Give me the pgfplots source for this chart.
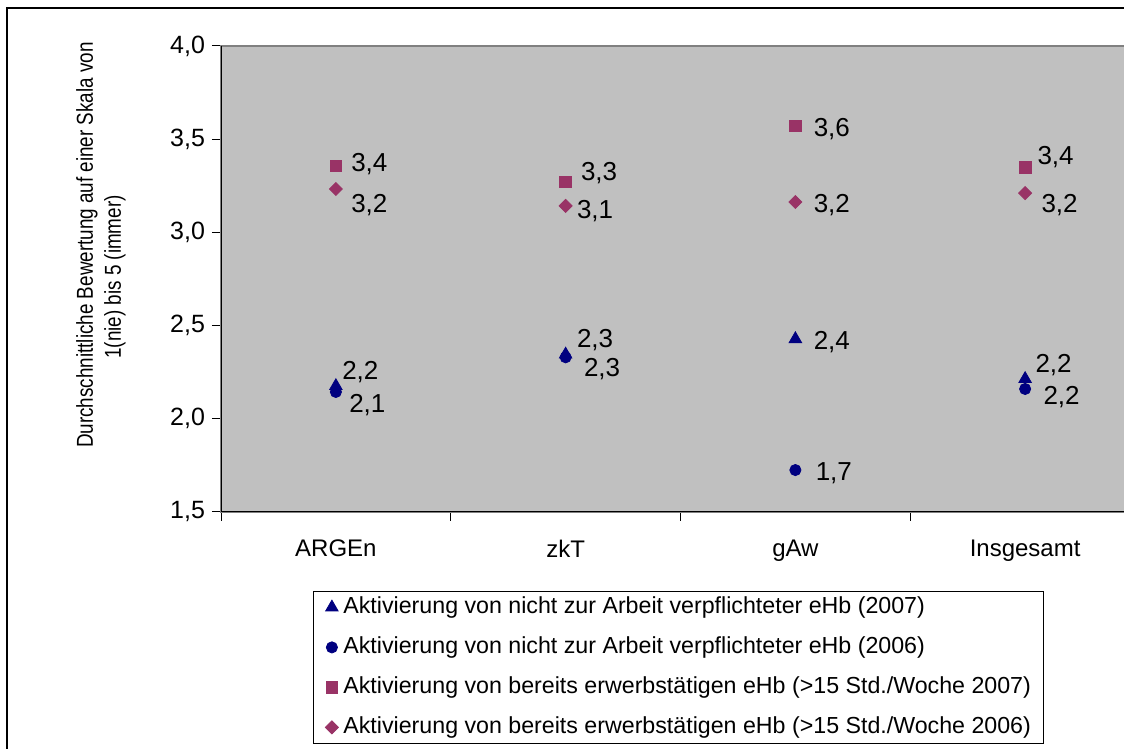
\documentclass[border=0pt]{standalone}
\usepackage{fontspec}
\setmainfont{Liberation Sans}
\usepackage{pgfplots}
\pgfplotsset{compat=1.18}
\usepackage{pgfplotstable}

\definecolor{navy}{RGB}{0,0,128}
\definecolor{plum}{RGB}{153,51,102}
\definecolor{plotbg}{RGB}{192,192,192}
\definecolor{framegray}{RGB}{128,128,128}

% x = category position, label = printed value, dx/dy = label offset in pt
\pgfplotstableread{
x y label dx dy
0.5 2.176 {2,2} 3 7
1.5 2.345 {2,3} 5.5 7
2.5 2.428 {2,4} 9 -1.5
3.5 2.214 {2,2} 5 7
}\tridata
\pgfplotstableread{
x y label dx dy
0.5 2.144 {2,1} 6.5 -6.5
1.5 2.330 {2,3} 9 -6
2.5 1.725 {1,7} 10 -1.5
3.5 2.160 {2,2} 9 -4
}\circdata
\pgfplotstableread{
x y label dx dy
0.5 3.356 {3,4} 7.5 1
1.5 3.270 {3,3} 7.5 4.5
2.5 3.571 {3,6} 9 -1.5
3.5 3.350 {3,4} 6 5
}\sqdata
\pgfplotstableread{
x y label dx dy
0.5 3.233 {3,2} 7.5 -8
1.5 3.142 {3,1} 5.5 -2.5
2.5 3.163 {3,2} 9 -1.5
3.5 3.211 {3,2} 8 -6
}\diadata

\pgfplotsset{
  lbl/.style={
    only marks,
    visualization depends on={\thisrow{dx} \as \dx},
    visualization depends on={\thisrow{dy} \as \dy},
    point meta=explicit symbolic,
    nodes near coords,
    nodes near coords style={anchor=west, inner sep=0pt, xshift=\dx pt, yshift=\dy pt,
      text=black, font=\fontsize{13}{15}\selectfont},
  },
}

\begin{document}
\begin{tikzpicture}
\useasboundingbox (0,0) rectangle (562pt,374.5pt);
\clip (0,0) rectangle (562pt,374.5pt);
\draw[line width=1pt] (3.5pt,-20pt) -- (3.5pt,370.5pt) -- (620pt,370.5pt);

\node[rotate=90, font=\fontsize{11.5}{13}\selectfont] at (43.5pt,252pt)
  {\scalebox{0.82}[1]{Durchschnittliche Bewertung auf einer Skala von}};
\node[rotate=90, font=\fontsize{11.5}{13}\selectfont] at (57.5pt,236pt)
  {\scalebox{0.82}[1]{1(nie) bis 5 (immer)}};

\begin{axis}[
  at={(110.5pt,118.5pt)}, anchor=south west,
  scale only axis, width=459.5pt, height=233pt,
  xmin=0, xmax=4, ymin=1.5, ymax=4,
  axis background/.style={fill=plotbg},
  axis line style={draw=framegray, line width=0.8pt},
  tick pos=left, tick align=outside,
  major tick length=4.5pt,
  tick style={draw=black, line width=0.5pt},
  xtick={0,1,2,3,4},
  x tick label as interval,
  xticklabels={ARGEn,zkT,gAw,Insgesamt},
  xticklabel style={font=\fontsize{12}{14}\selectfont, yshift=-6pt},
  ytick={1.5,2,...,4},
  yticklabel style={font=\fontsize{12.5}{14}\selectfont},
  /pgf/number format/.cd, use comma, fixed, fixed zerofill, precision=1, assume math mode=true,
  /pgfplots/.cd,
  legend style={at={(0.1001,-0.1695)}, anchor=north west, draw=black, fill=white,
    font=\fontsize{11.6}{14}\selectfont, inner xsep=6pt, inner ysep=2pt,
    row sep=8pt,
    nodes={inner sep=0pt, text height=9pt, text depth=3pt}},
  legend cell align=left,
  legend image code/.code={\draw[#1] plot coordinates {(0pt,0pt)};},
  /tikz/every even column/.append style={column sep=4.5pt},
]
\draw[black, line width=0.8pt] (axis cs:0,4) |- (axis cs:4,1.5);

\addplot[lbl, mark=triangle*, mark size=3.6pt, color=navy]
  table[x=x, y=y, meta=label] {\tridata};
\addlegendentry{\hspace{2.5pt}Aktivierung von nicht zur Arbeit verpflichteter eHb (2007)}
\addplot[lbl, mark=*, mark size=2.8pt, color=navy]
  table[x=x, y=y, meta=label] {\circdata};
\addlegendentry{\hspace{2.5pt}Aktivierung von nicht zur Arbeit verpflichteter eHb (2006)}
\addplot[lbl, mark=square*, mark size=2.9pt, color=plum]
  table[x=x, y=y, meta=label] {\sqdata};
\addlegendentry{\hspace{2.5pt}Aktivierung von bereits erwerbstätigen eHb (>15 Std./Woche 2007)}
\addplot[lbl, mark=square*, mark size=2.3pt, mark options={rotate=45}, color=plum]
  table[x=x, y=y, meta=label] {\diadata};
\addlegendentry{\hspace{2.5pt}Aktivierung von bereits erwerbstätigen eHb (>15 Std./Woche 2006)}
\end{axis}
\end{tikzpicture}
\end{document}
